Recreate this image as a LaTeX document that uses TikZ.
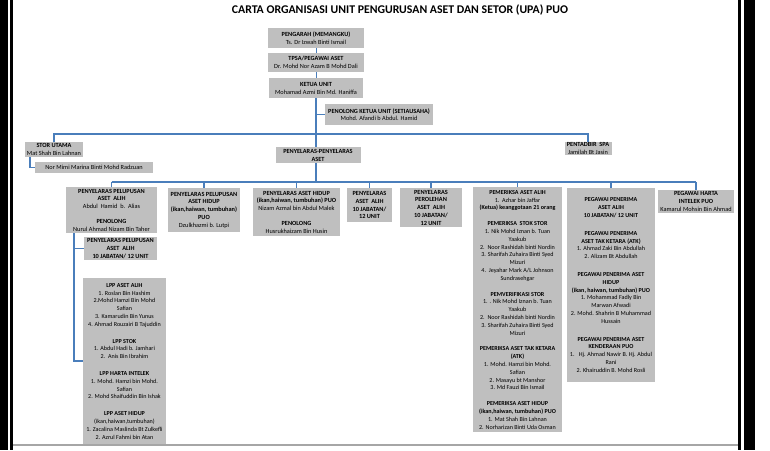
\documentclass[tikz,border=0pt]{standalone}
\usepackage{fontspec}
\setmainfont{Carlito}
\usepackage{tikz}
\definecolor{boxgray}{HTML}{BFBFBF}
\definecolor{linkblue}{HTML}{4A7EBB}
\tikzset{
  box/.style={fill=boxgray, anchor=north, align=center, inner xsep=1pt, inner ysep=0pt,
    font=\fontsize{6.3}{7.8}\selectfont},
  small/.style={font=\fontsize{6.1}{7.8}\selectfont},
  dims/.style 2 args={minimum width=#1pt, minimum height=#2pt},
  conn/.style={draw=linkblue, line width=1.5pt},
}
\begin{document}
\begin{tikzpicture}[x=1pt,y=-1pt]
\useasboundingbox (0,0) rectangle (770,450);
\fill[black] (0,0) rectangle (8,450);
\fill[black] (10,0) rectangle (13,450);
\fill[black] (738,0) rectangle (741,450);
\fill[black] (744,0) rectangle (755,450);
\draw[black!35, line width=2pt] (13,445) -- (738,445);

\node[font=\bfseries\fontsize{11.8}{13}\selectfont] (title) at (400,10)
  {CARTA ORGANISASI UNIT PENGURUSAN ASET DAN SETOR (UPA) PUO};

\node[box, dims={96}{20}] (pengarah) at (316,28) {\textbf{PENGARAH (MEMANGKU)}\\Ts. Dr Izwah Binti Ismail};
\node[box, dims={96}{19}] (tpsa) at (316,53) {\textbf{TPSA/PEGAWAI ASET}\\Dr. Mohd Nor Azam B Mohd Dali};
\node[box, dims={94}{20}] (ketua) at (316,78) {\textbf{KETUA UNIT}\\Mohamad Azmi Bin Md. Haniffa};
\node[box, dims={108}{21}] (penku) at (379,104) {\textbf{PENOLONG KETUA UNIT (SETIAUSAHA)}\\Mohd. Afandi b Abdul. Hamid};
\node[box, dims={58}{15}] (stor) at (54,142) {\textbf{STOR UTAMA}\\Mat Shah Bin Lahnan};
\node[box, dims={118}{11}] (nmimi) at (94,162) {Nor Mimi Marina Binti Mohd Radzuan};
\node[box, dims={85}{16}] (penyelaras) at (318,147) {\textbf{PENYELARAS-PENYELARAS}\\\textbf{ASET}};
\node[box, dims={47}{13}] (pentadbir) at (588,142) {\textbf{PENTADBIR\ \ SPA}\\Jamilah Bt Jasin};

\coordinate (bus1) at (0,134);
\coordinate (bus2) at (0,182);

\node[box, dims={91}{46}] (pelA) at (111.5,187) {\textbf{PENYELARAS PELUPUSAN}\\\textbf{ASET\ \ ALIH}\\Abdul\ \ Hamid\ \ b.\ \ Alias\\[7pt]
  \textbf{PENOLONG}\\Nurul Ahmad Nizam Bin Taher};
\node[box, dims={72}{44}] (pelB) at (204,188) {\textbf{PENYELARAS PELUPUSAN}\\\textbf{ASET HIDUP}\\\textbf{(ikan,haiwan, tumbuhan)}\\\textbf{PUO}\\
  Dzulkhazmi b. Lutpi};
\node[box, dims={87}{48}] (pelC) at (296.5,188) {\textbf{PENYELARAS ASET HIDUP}\\\textbf{(ikan,haiwan, tumbuhan) PUO}\\Nizam Azmal bin Abdul Malek\\[7pt]
  \textbf{PENOLONG}\\Husrukhaizam Bin Husin};
\node[box, dims={45}{34}] (pelD) at (369.5,188) {\textbf{PENYELARAS}\\\textbf{ASET\ \ ALIH}\\\textbf{10 JABATAN/}\\\textbf{12 UNIT}};
\node[box, dims={62}{39}] (pelE) at (431,188) {\textbf{PENYELARAS}\\\textbf{PEROLEHAN}\\\textbf{ASET\ \ ALIH}\\\textbf{10 JABATAN/}\\\textbf{12 UNIT}};
\node[box, small, dims={89}{245}] (pemeriksa) at (517.5,187) {\textbf{PEMERIKSA ASET ALIH}\\1.\ \ Azhar bin Jaffar\\\textbf{(Ketua) keanggotaan 21 orang}\\[8pt]
  \textbf{PEMERIKSA\ \ STOK STOR}\\1. Nik Mohd Iznan b. Tuan\\Yaakub\\2.\ \ Noor Rashidah binti Nordin\\3. Sharifah Zuhaira Binti Syed\\Mizuri\\
  4.\ \ Jeyahar Mark A/L Johnson\\Sundrasehgar\\[8pt]
  \textbf{PEMVERIFIKASI STOR}\\1. . Nik Mohd Iznan b. Tuan\\Yaakub\\2.\ \ Noor Rashidah binti Nordin\\3. Sharifah Zuhaira Binti Syed\\Mizuri\\[8pt]
  \textbf{PEMERIKSA ASET TAK KETARA}\\\textbf{(ATK)}\\1. Mohd. Hamzi bin Mohd.\\Safian\\2. Masayu bt Manshor\\3. Md Fauzi Bin Ismail\\[8pt]
  \textbf{PEMERIKSA ASET HIDUP}\\\textbf{(ikan,haiwan, tumbuhan) PUO}\\1. Mat Shah Bin Lahnan\\2. Norharizan Binti Uda Osman};
\node[box, small, dims={88}{194}] (penerima) at (611,188) {\textbf{PEGAWAI PENERIMA}\\\textbf{ASET ALIH}\\\textbf{10 JABATAN/ 12 UNIT}\\[10pt]
  \textbf{PEGAWAI PENERIMA}\\\textbf{ASET TAK KETARA (ATK)}\\1. Ahmad Zaki Bin Abdullah\\2. Alizam Bt Abdullah\\[10pt]
  \textbf{PEGAWAI PENERIMA ASET}\\\textbf{HIDUP}\\\textbf{(ikan, haiwan, tumbuhan) PUO}\\1. Mohammad Fadly Bin\\Marwan Afwadi\\2. Mohd. Shahrin B Muhammad\\Hussain\\[10pt]
  \textbf{PEGAWAI PENERIMA ASET}\\\textbf{KENDERAAN PUO}\\1.\ \ \ Hj. Ahmad Nawir B. Hj. Abdul\\Rani\\2. Khairuddin B. Mohd Rosli};
\node[box, dims={76}{23}] (harta) at (696,190) {\textbf{PEGAWAI HARTA}\\\textbf{INTELEK PUO}\\Kamarul Mohsin Bin Ahmad};

\node[box, dims={73}{23}] (pelA2) at (120.5,237) {\textbf{PENYELARAS PELUPUSAN}\\\textbf{ASET\ \ ALIH}\\\textbf{10 JABATAN/ 12 UNIT}};
\node[box, small, dims={83}{166}] (lpp) at (124.5,278) {\textbf{LPP ASET ALIH}\\1. Roslan Bin Hashim\\2.Mohd Hamzi Bin Mohd\\Safian\\3. Kamarudin Bin Yunus\\4. Ahmad Rouzairi B Tajuddin\\[9pt]
  \textbf{LPP STOK}\\1. Abdul Hadi b. Jamhari\\2.\ \ Anis Bin Ibrahim\\[9pt]
  \textbf{LPP HARTA INTELEK}\\1. Mohd. Hamzi bin Mohd.\\Safian\\2. Mohd Shaifuddin Bin Ishak\\[9pt]
  \textbf{LPP ASET HIDUP}\\(ikan,haiwan,tumbuhan)\\1. Zacalina Maslinda Bt Zulkefli\\2. Azrul Fahmi bin Atan};

\draw[linkblue, line width=0.8pt] (pengarah.south) -- (tpsa.north);
\draw[linkblue, line width=0.8pt] (tpsa.south) -- (ketua.north);
\draw[conn] (ketua.south) -- (ketua.south |- penyelaras.north);
\draw[conn] (ketua.south |- penku.west) -- (penku.west);
\draw[conn] (stor.north) -- (stor.north |- bus1) -- (pentadbir.north |- bus1) -- (pentadbir.north);
\draw[conn] ([xshift=-24pt]stor.south) |- (nmimi.west);
\draw[conn] (ketua.south |- penyelaras.south) -- (ketua.south |- bus2);
\draw[conn] (pelA.north |- bus2) -- (harta.north |- bus2);
\foreach \n in {pelA,pelB,pelC,pelD,pelE,pemeriksa,penerima,harta}
  \draw[conn] (\n.north |- bus2) -- (\n.north);
\coordinate (trunk) at ([xshift=8pt]pelA.south west);
\draw[conn] (trunk) |- (lpp.west);
\draw[conn] (trunk) |- (pelA2.west);
\end{tikzpicture}
\end{document}
